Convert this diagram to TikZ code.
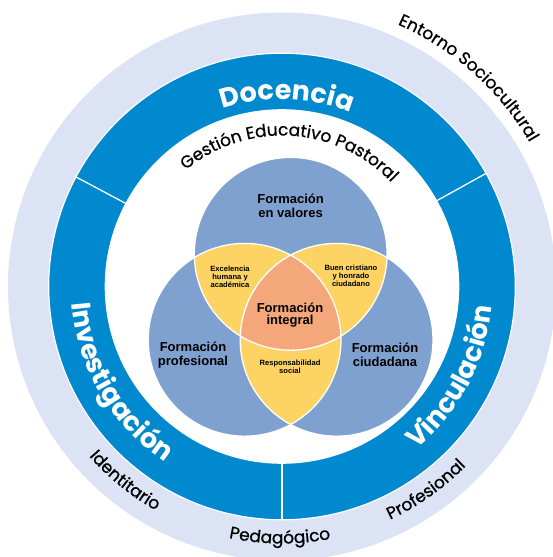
\documentclass[tikz,border=0pt]{standalone}
\usepackage{fontspec}
\newfontfamily\popfont{Poppins}
\newfontfamily\popmed{Poppins}[FakeBold=0.7]
\newfontfamily\lsfont{Liberation Sans}
\usetikzlibrary{decorations.text,calc}
\definecolor{lightring}{RGB}{220,227,244}
\definecolor{darkring}{RGB}{0,137,207}
\definecolor{vennblue}{RGB}{127,161,208}
\definecolor{vennyellow}{RGB}{253,212,100}
\definecolor{vennorange}{RGB}{244,167,123}
\newcommand\ringtextfont{\color{white}\popfont\bfseries\fontsize{27}{27}\selectfont}
\newcommand\gestfont{\color{black}\popmed\fontsize{17}{17}\selectfont}
\newcommand\outerfont{\color{black}\popmed\fontsize{17}{17}\selectfont}
\begin{document}
\begin{tikzpicture}[x=1pt,y=1pt,
  sepline/.style={draw=white,line width=1.3pt},
  vennline/.style={draw=white,line width=1.3pt},
  biglabel/.style={font=\lsfont\bfseries\fontsize{13}{13.5}\selectfont,align=center,inner sep=0pt,text=black},
  midlabel/.style={font=\lsfont\bfseries\fontsize{13}{12}\selectfont,align=center,inner sep=0pt,text=black},
  smalllabel/.style={font=\lsfont\bfseries\fontsize{7.6}{8.2}\selectfont,align=center,inner sep=0pt,text=black}]
\useasboundingbox (0,0) rectangle (553,557);
\clip (0,0) rectangle (553,557);
\fill[white] (0,0) rectangle (553,557);
\coordinate (C) at (282,270.5);
% rings
\fill[lightring] (C) circle[radius=274];
\filldraw[fill=darkring,draw=white,line width=1.2pt] (C) circle[radius=233.3];
\fill[white] (C) circle[radius=177.3];
% separators
\coordinate (s1a) at ($(C)+(29:176)$);   \coordinate (s1b) at ($(C)+(29:234)$);
\coordinate (s2a) at ($(C)+(152:176)$);  \coordinate (s2b) at ($(C)+(152:234)$);
\coordinate (s3a) at ($(C)+(270:176)$);  \coordinate (s3b) at ($(C)+(270:234)$);
\draw[sepline] (s1a) -- (s1b);
\draw[sepline] (s2a) -- (s2b);
\draw[sepline] (s3a) -- (s3b);
% venn
\coordinate (T) at (290.7,303.2);
\coordinate (BL) at (244.6,217.2);
\coordinate (BR) at (336.6,217.2);
\def\vr{96.4}
\fill[vennblue] (T) circle[radius=\vr];
\fill[vennblue] (BL) circle[radius=\vr];
\fill[vennblue] (BR) circle[radius=\vr];
\begin{scope}
  \clip (T) circle[radius=\vr];
  \fill[vennyellow] (BL) circle[radius=\vr];
  \fill[vennyellow] (BR) circle[radius=\vr];
\end{scope}
\begin{scope}
  \clip (BL) circle[radius=\vr];
  \fill[vennyellow] (BR) circle[radius=\vr];
\end{scope}
\begin{scope}
  \clip (T) circle[radius=\vr];
  \clip (BL) circle[radius=\vr];
  \fill[vennorange] (BR) circle[radius=\vr];
\end{scope}
\draw[vennline] (T) circle[radius=\vr];
\draw[vennline] (BL) circle[radius=\vr];
\draw[vennline] (BR) circle[radius=\vr];
% venn labels
\node[biglabel] (valores) at (290.6,351) {Formación\\en valores};
\node[biglabel] (profesional) at (193,202) {Formación\\profesional};
\node[biglabel] (ciudadana) at (385,202) {Formación\\ciudadana};
\node[midlabel] (integral) at (290,242) {Formación\\integral};
\node[smalllabel] (excelencia) at (230,280.5) {Excelencia\\humana y\\académica};
\node[smalllabel] (buen) at (351,281) {Buen cristiano\\y honrado\\ciudadano};
\node[smalllabel] (respons) at (290,190) {Responsabilidad\\social};
% curved texts
\path[decorate,decoration={text along path,text align=center,text={|\ringtextfont|Docencia}}]
  ($(C)+(128.5:187)$) arc[start angle=128.5,end angle=48.5,radius=187];
\path[decorate,decoration={text along path,text align=center,text={|\ringtextfont|Investigación}}]
  ($(C)+(170.5:211)$) arc[start angle=170.5,end angle=250.5,radius=211];
\path[decorate,decoration={text along path,text align=center,text={|\ringtextfont|Vinculación}}]
  ($(C)+(292:211)$) arc[start angle=292,end angle=372,radius=211];
\path[decorate,decoration={text along path,text align=center,text={|\gestfont|Gestión Educativo Pastoral}}]
  ($(C)+(146.6:151)$) arc[start angle=146.6,end angle=26.6,radius=151];
\path[decorate,decoration={text along path,text align=center,text={|\outerfont|Entorno Sociocultural}}]
  ($(C)+(78.2:286.5)$) arc[start angle=78.2,end angle=18.2,radius=286.5];
\path[decorate,decoration={text along path,text align=center,text={|\outerfont|Identitario}}]
  ($(C)+(206:257)$) arc[start angle=206,end angle=256,radius=257];
\path[decorate,decoration={text along path,text align=center,text={|\outerfont|Pedagógico}}]
  ($(C)+(244.5:257)$) arc[start angle=244.5,end angle=294.5,radius=257];
\path[decorate,decoration={text along path,text align=center,text={|\outerfont|Profesional}}]
  ($(C)+(280.3:257)$) arc[start angle=280.3,end angle=330.3,radius=257];
\end{tikzpicture}
\end{document}
